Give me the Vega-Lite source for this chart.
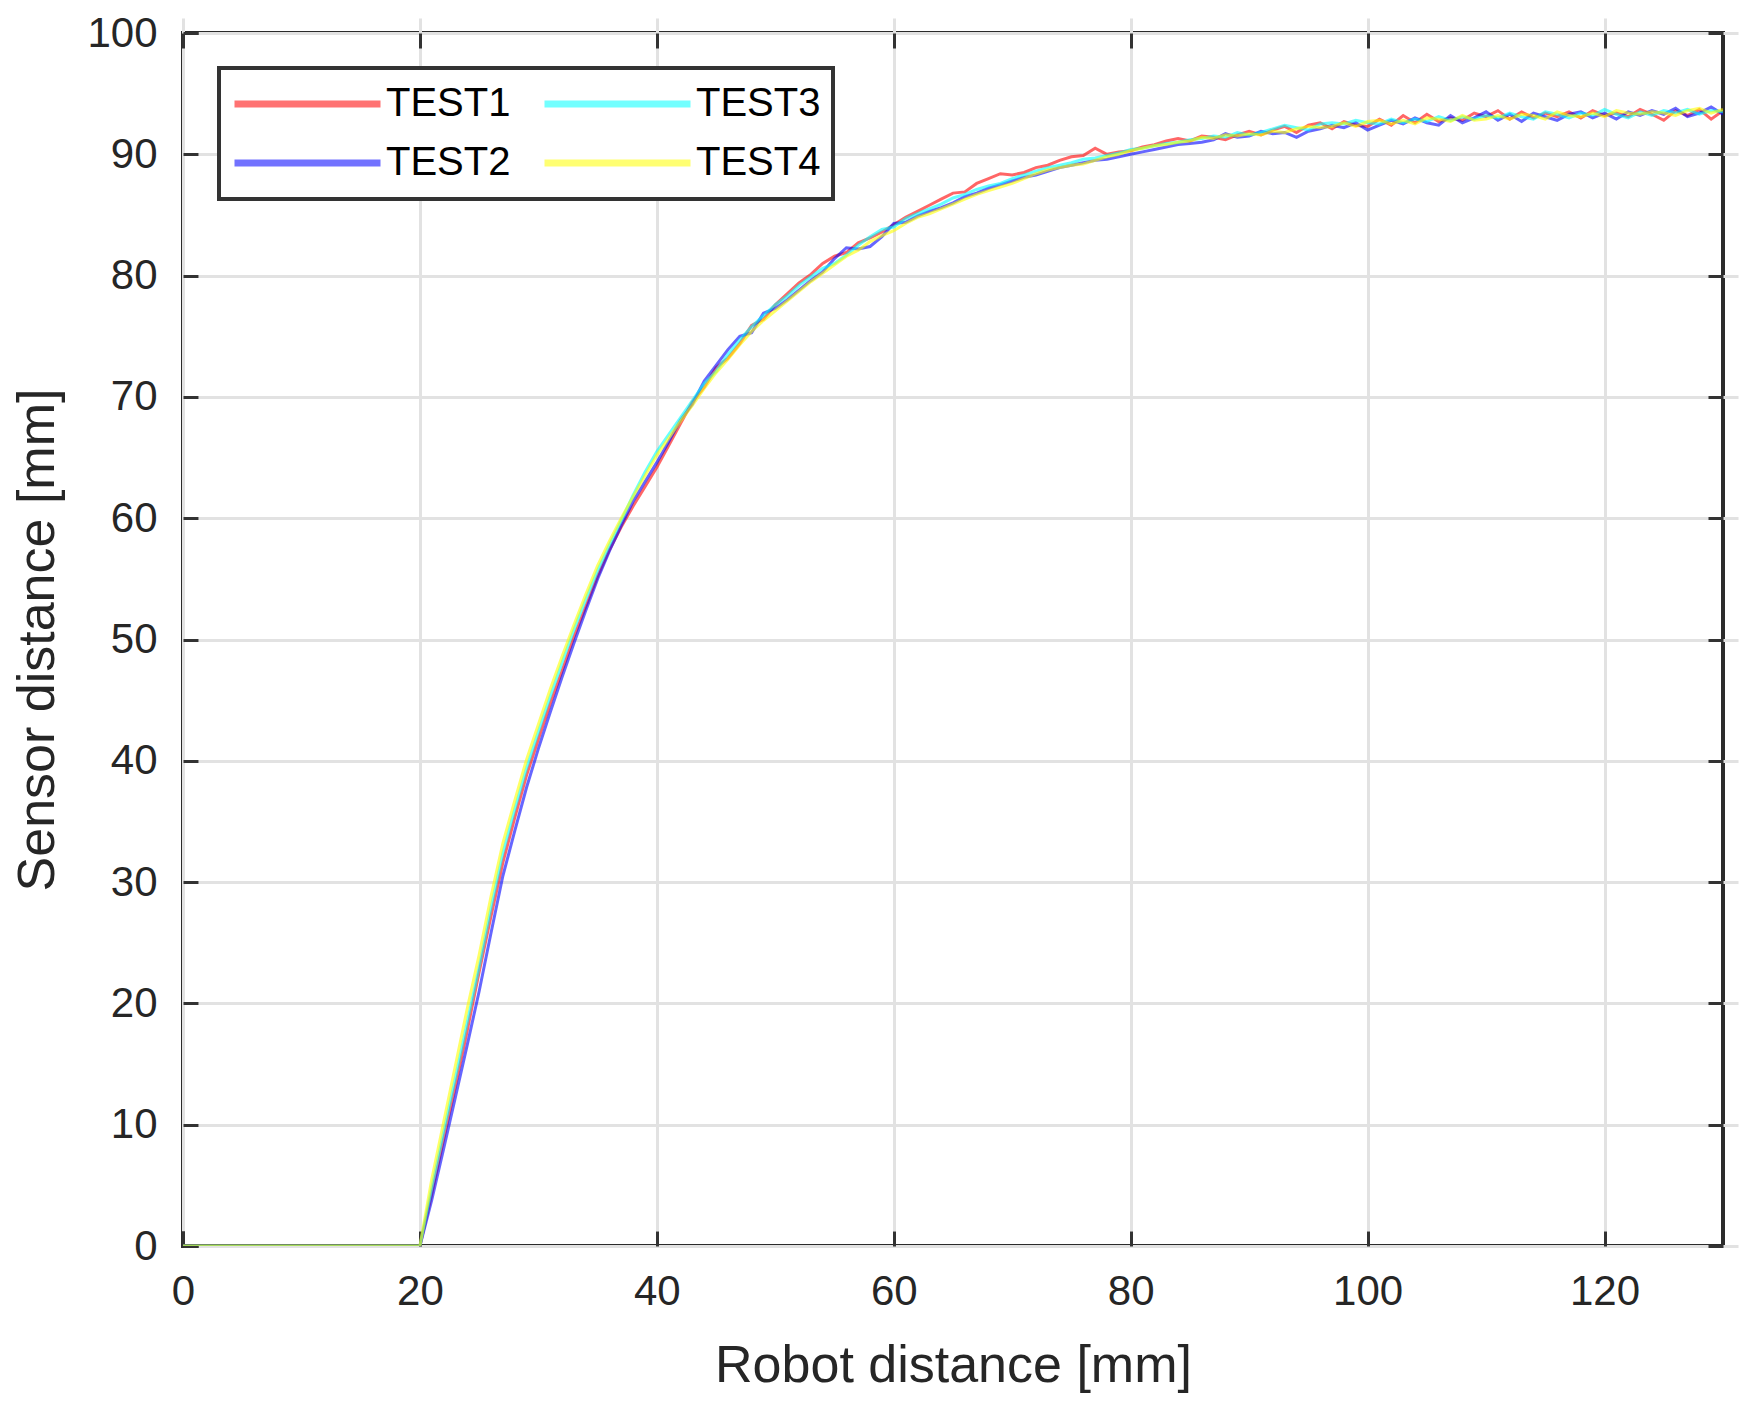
{
  "$schema": "https://vega.github.io/schema/vega-lite/v6.json",
  "width": 1540,
  "height": 1213,
  "autosize": {"type": "none"},
  "padding": {"left": 183, "top": 33, "right": 18, "bottom": 165},
  "background": "white",
  "data": {
    "values": [
      {"x":0,"TEST1":0,"TEST2":0,"TEST3":0,"TEST4":0},
      {"x":10,"TEST1":0,"TEST2":0,"TEST3":0,"TEST4":0},
      {"x":20,"TEST1":0,"TEST2":0,"TEST3":0,"TEST4":0},
      {"x":21,"TEST1":4.3,"TEST2":3.8,"TEST3":4.8,"TEST4":5.5},
      {"x":22,"TEST1":8.8,"TEST2":8.0,"TEST3":9.4,"TEST4":10.2},
      {"x":23,"TEST1":13.2,"TEST2":12.3,"TEST3":13.9,"TEST4":14.9},
      {"x":24,"TEST1":17.8,"TEST2":16.6,"TEST3":18.5,"TEST4":19.6},
      {"x":25,"TEST1":22.6,"TEST2":21.0,"TEST3":23.0,"TEST4":24.0},
      {"x":26,"TEST1":27.2,"TEST2":25.8,"TEST3":27.9,"TEST4":28.8},
      {"x":27,"TEST1":31.6,"TEST2":30.5,"TEST3":32.4,"TEST4":33.2},
      {"x":28,"TEST1":35.3,"TEST2":34.2,"TEST3":36.0,"TEST4":36.7},
      {"x":29,"TEST1":38.8,"TEST2":37.8,"TEST3":39.4,"TEST4":40.1},
      {"x":30,"TEST1":41.8,"TEST2":41.0,"TEST3":42.4,"TEST4":43.0},
      {"x":31,"TEST1":44.7,"TEST2":44.0,"TEST3":45.3,"TEST4":45.9},
      {"x":32,"TEST1":47.4,"TEST2":46.9,"TEST3":48.1,"TEST4":48.6},
      {"x":33,"TEST1":50.2,"TEST2":49.7,"TEST3":50.8,"TEST4":51.2},
      {"x":34,"TEST1":52.7,"TEST2":52.4,"TEST3":53.3,"TEST4":53.7},
      {"x":35,"TEST1":55.2,"TEST2":55.0,"TEST3":55.7,"TEST4":56.1},
      {"x":36,"TEST1":57.4,"TEST2":57.3,"TEST3":57.8,"TEST4":58.1},
      {"x":37,"TEST1":59.3,"TEST2":59.4,"TEST3":59.8,"TEST4":60.0},
      {"x":38,"TEST1":61.0,"TEST2":61.4,"TEST3":61.9,"TEST4":61.8},
      {"x":39,"TEST1":62.6,"TEST2":63.0,"TEST3":63.8,"TEST4":63.5},
      {"x":40,"TEST1":64.2,"TEST2":64.6,"TEST3":65.5,"TEST4":65.2},
      {"x":41,"TEST1":66.0,"TEST2":66.3,"TEST3":66.9,"TEST4":66.6},
      {"x":42,"TEST1":67.8,"TEST2":68.1,"TEST3":68.3,"TEST4":68.0},
      {"x":43,"TEST1":69.6,"TEST2":69.4,"TEST3":69.7,"TEST4":69.3},
      {"x":44,"TEST1":70.8,"TEST2":71.3,"TEST3":71.1,"TEST4":70.7},
      {"x":45,"TEST1":72.4,"TEST2":72.6,"TEST3":72.1,"TEST4":72.0},
      {"x":46,"TEST1":73.2,"TEST2":73.9,"TEST3":73.5,"TEST4":73.1},
      {"x":47,"TEST1":74.4,"TEST2":75.0,"TEST3":74.7,"TEST4":74.3},
      {"x":48,"TEST1":75.9,"TEST2":75.3,"TEST3":75.8,"TEST4":75.4},
      {"x":49,"TEST1":76.4,"TEST2":76.9,"TEST3":76.7,"TEST4":76.3},
      {"x":50,"TEST1":77.6,"TEST2":77.3,"TEST3":77.6,"TEST4":77.1},
      {"x":51,"TEST1":78.5,"TEST2":78.0,"TEST3":78.3,"TEST4":77.9},
      {"x":52,"TEST1":79.4,"TEST2":78.8,"TEST3":79.2,"TEST4":78.7},
      {"x":53,"TEST1":80.1,"TEST2":79.6,"TEST3":79.9,"TEST4":79.5},
      {"x":54,"TEST1":81.0,"TEST2":80.3,"TEST3":80.6,"TEST4":80.2},
      {"x":55,"TEST1":81.6,"TEST2":81.4,"TEST3":81.0,"TEST4":80.9},
      {"x":56,"TEST1":81.9,"TEST2":82.3,"TEST3":81.7,"TEST4":81.6},
      {"x":57,"TEST1":82.7,"TEST2":82.2,"TEST3":82.5,"TEST4":82.1},
      {"x":58,"TEST1":83.1,"TEST2":82.4,"TEST3":83.2,"TEST4":82.8},
      {"x":59,"TEST1":83.6,"TEST2":83.2,"TEST3":83.8,"TEST4":83.3},
      {"x":60,"TEST1":84.2,"TEST2":84.3,"TEST3":84.0,"TEST4":83.7},
      {"x":61,"TEST1":84.8,"TEST2":84.4,"TEST3":84.7,"TEST4":84.3},
      {"x":62,"TEST1":85.3,"TEST2":84.9,"TEST3":85.1,"TEST4":84.8},
      {"x":63,"TEST1":85.8,"TEST2":85.3,"TEST3":85.5,"TEST4":85.1},
      {"x":64,"TEST1":86.3,"TEST2":85.6,"TEST3":85.9,"TEST4":85.5},
      {"x":65,"TEST1":86.8,"TEST2":86.0,"TEST3":86.4,"TEST4":85.9},
      {"x":66,"TEST1":86.9,"TEST2":86.5,"TEST3":86.7,"TEST4":86.3},
      {"x":67,"TEST1":87.6,"TEST2":86.8,"TEST3":87.1,"TEST4":86.7},
      {"x":68,"TEST1":88.0,"TEST2":87.2,"TEST3":87.4,"TEST4":87.0},
      {"x":69,"TEST1":88.4,"TEST2":87.5,"TEST3":87.6,"TEST4":87.3},
      {"x":70,"TEST1":88.3,"TEST2":87.8,"TEST3":88.0,"TEST4":87.6},
      {"x":71,"TEST1":88.5,"TEST2":88.1,"TEST3":88.3,"TEST4":88.0},
      {"x":72,"TEST1":88.9,"TEST2":88.3,"TEST3":88.6,"TEST4":88.4},
      {"x":73,"TEST1":89.1,"TEST2":88.6,"TEST3":88.9,"TEST4":88.7},
      {"x":74,"TEST1":89.5,"TEST2":88.9,"TEST3":89.1,"TEST4":88.9},
      {"x":75,"TEST1":89.8,"TEST2":89.1,"TEST3":89.3,"TEST4":89.1},
      {"x":76,"TEST1":89.9,"TEST2":89.3,"TEST3":89.6,"TEST4":89.2},
      {"x":77,"TEST1":90.5,"TEST2":89.5,"TEST3":89.7,"TEST4":89.5},
      {"x":78,"TEST1":90.0,"TEST2":89.6,"TEST3":89.9,"TEST4":89.8},
      {"x":79,"TEST1":90.2,"TEST2":89.8,"TEST3":90.1,"TEST4":90.0},
      {"x":80,"TEST1":90.3,"TEST2":90.0,"TEST3":90.4,"TEST4":90.3},
      {"x":81,"TEST1":90.6,"TEST2":90.2,"TEST3":90.5,"TEST4":90.5},
      {"x":82,"TEST1":90.8,"TEST2":90.4,"TEST3":90.7,"TEST4":90.7},
      {"x":83,"TEST1":91.1,"TEST2":90.6,"TEST3":90.9,"TEST4":90.8},
      {"x":84,"TEST1":91.3,"TEST2":90.8,"TEST3":91.0,"TEST4":91.0},
      {"x":85,"TEST1":91.1,"TEST2":90.9,"TEST3":91.2,"TEST4":91.1},
      {"x":86,"TEST1":91.5,"TEST2":91.0,"TEST3":91.3,"TEST4":91.4},
      {"x":87,"TEST1":91.4,"TEST2":91.2,"TEST3":91.5,"TEST4":91.3},
      {"x":88,"TEST1":91.2,"TEST2":91.7,"TEST3":91.4,"TEST4":91.6},
      {"x":89,"TEST1":91.6,"TEST2":91.4,"TEST3":91.8,"TEST4":91.5},
      {"x":90,"TEST1":91.9,"TEST2":91.5,"TEST3":91.6,"TEST4":91.7},
      {"x":91,"TEST1":91.6,"TEST2":91.9,"TEST3":91.8,"TEST4":91.6},
      {"x":92,"TEST1":92.0,"TEST2":91.7,"TEST3":92.1,"TEST4":91.9},
      {"x":93,"TEST1":92.3,"TEST2":91.8,"TEST3":92.4,"TEST4":91.8},
      {"x":94,"TEST1":91.8,"TEST2":91.4,"TEST3":92.2,"TEST4":92.1},
      {"x":95,"TEST1":92.4,"TEST2":91.9,"TEST3":92.0,"TEST4":92.3},
      {"x":96,"TEST1":92.6,"TEST2":92.1,"TEST3":92.5,"TEST4":92.2},
      {"x":97,"TEST1":92.1,"TEST2":92.4,"TEST3":92.6,"TEST4":92.3},
      {"x":98,"TEST1":92.7,"TEST2":92.2,"TEST3":92.5,"TEST4":92.6},
      {"x":99,"TEST1":92.4,"TEST2":92.6,"TEST3":92.8,"TEST4":92.3},
      {"x":100,"TEST1":92.3,"TEST2":92.0,"TEST3":92.6,"TEST4":92.7},
      {"x":101,"TEST1":92.9,"TEST2":92.4,"TEST3":92.5,"TEST4":92.8},
      {"x":102,"TEST1":92.4,"TEST2":92.8,"TEST3":92.9,"TEST4":92.5},
      {"x":103,"TEST1":93.2,"TEST2":92.5,"TEST3":92.6,"TEST4":92.8},
      {"x":104,"TEST1":92.6,"TEST2":93.0,"TEST3":92.9,"TEST4":92.5},
      {"x":105,"TEST1":93.3,"TEST2":92.6,"TEST3":92.7,"TEST4":93.0},
      {"x":106,"TEST1":92.7,"TEST2":92.4,"TEST3":93.1,"TEST4":92.9},
      {"x":107,"TEST1":93.0,"TEST2":93.2,"TEST3":92.8,"TEST4":92.7},
      {"x":108,"TEST1":92.8,"TEST2":92.6,"TEST3":93.1,"TEST4":93.2},
      {"x":109,"TEST1":93.4,"TEST2":93.0,"TEST3":92.9,"TEST4":92.8},
      {"x":110,"TEST1":93.1,"TEST2":93.5,"TEST3":93.2,"TEST4":92.9},
      {"x":111,"TEST1":93.6,"TEST2":92.8,"TEST3":93.0,"TEST4":93.2},
      {"x":112,"TEST1":92.9,"TEST2":93.3,"TEST3":93.4,"TEST4":92.9},
      {"x":113,"TEST1":93.5,"TEST2":92.7,"TEST3":93.1,"TEST4":93.3},
      {"x":114,"TEST1":93.0,"TEST2":93.4,"TEST3":92.9,"TEST4":93.2},
      {"x":115,"TEST1":93.4,"TEST2":93.1,"TEST3":93.5,"TEST4":92.9},
      {"x":116,"TEST1":93.1,"TEST2":92.8,"TEST3":93.3,"TEST4":93.5},
      {"x":117,"TEST1":93.5,"TEST2":93.3,"TEST3":93.0,"TEST4":93.2},
      {"x":118,"TEST1":93.0,"TEST2":93.5,"TEST3":93.4,"TEST4":93.1},
      {"x":119,"TEST1":93.6,"TEST2":93.0,"TEST3":93.2,"TEST4":93.4},
      {"x":120,"TEST1":93.2,"TEST2":93.4,"TEST3":93.7,"TEST4":93.1},
      {"x":121,"TEST1":93.4,"TEST2":92.9,"TEST3":93.3,"TEST4":93.6},
      {"x":122,"TEST1":93.1,"TEST2":93.5,"TEST3":93.0,"TEST4":93.4},
      {"x":123,"TEST1":93.7,"TEST2":93.2,"TEST3":93.5,"TEST4":93.3},
      {"x":124,"TEST1":93.3,"TEST2":93.6,"TEST3":93.2,"TEST4":93.5},
      {"x":125,"TEST1":92.8,"TEST2":93.3,"TEST3":93.6,"TEST4":93.4},
      {"x":126,"TEST1":93.6,"TEST2":93.8,"TEST3":93.4,"TEST4":93.2},
      {"x":127,"TEST1":93.2,"TEST2":93.1,"TEST3":93.7,"TEST4":93.6},
      {"x":128,"TEST1":93.7,"TEST2":93.4,"TEST3":93.3,"TEST4":93.8},
      {"x":129,"TEST1":92.9,"TEST2":93.9,"TEST3":93.6,"TEST4":93.4},
      {"x":130,"TEST1":93.6,"TEST2":93.3,"TEST3":93.5,"TEST4":93.7}
    ]
  },
  "transform": [{"fold": ["TEST1", "TEST2", "TEST3", "TEST4"], "as": ["test", "y"]}],
  "layer": [
    {
      "mark": {"type": "line", "strokeWidth": 3, "strokeOpacity": 0.6, "clip": true},
      "encoding": {
        "x": {"field": "x", "type": "quantitative", "scale": {"domain": [0, 130], "nice": false},
          "axis": {"orient": "bottom", "values": [0,20,40,60,80,100,120], "title": "Robot distance [mm]", "labelFlush": false}},
        "y": {"field": "y", "type": "quantitative", "scale": {"domain": [0, 100], "nice": false},
          "axis": {"orient": "left", "values": [0,10,20,30,40,50,60,70,80,90,100], "title": "Sensor distance [mm]"}},
        "color": {"field": "test", "type": "nominal",
          "scale": {"domain": ["TEST1","TEST2","TEST3","TEST4"], "range": ["#ff0000","#0000ff","#00ffff","#ffff00"]},
          "legend": {"title": null, "orient": "none", "legendX": 36, "legendY": 35, "columns": 2,
            "symbolType": "stroke", "symbolSize": 21316, "symbolStrokeWidth": 7, "symbolOpacity": 0.55,
            "labelFontSize": 40, "labelColor": "#000000", "labelOffset": 2, "labelFont": "Liberation Sans",
            "clipHeight": 48, "columnPadding": 30, "rowPadding": 11, "padding": 12,
            "fillColor": "white", "strokeColor": "#333333"}},
        "order": {"field": "x", "type": "quantitative"}
      }
    },
    {
      "mark": {"type": "point", "opacity": 0},
      "encoding": {
        "x": {"field": "x", "type": "quantitative", "axis": {"orient": "top", "values": [0,20,40,60,80,100,120], "labels": false, "title": null, "grid": false}},
        "y": {"field": "y", "type": "quantitative", "axis": {"orient": "right", "values": [0,10,20,30,40,50,60,70,80,90,100], "labels": false, "title": null, "grid": false}}
      }
    }
  ],
  "resolve": {"axis": {"x": "independent", "y": "independent"}},
  "config": {
    "font": "Liberation Sans",
    "view": {"stroke": "#2b2b2b", "strokeWidth": 4},
    "legend": {"strokeWidth": 4},
    "axis": {
      "domain": false, "offset": -15,
      "grid": true, "gridColor": "#e2e2e2", "gridWidth": 3,
      "tickSize": 15, "tickColor": "#333333", "tickWidth": 3,
      "labelFont": "Liberation Sans", "labelFontSize": 42, "labelColor": "#262626",
      "titleFont": "Liberation Sans", "titleFontSize": 52, "titleFontWeight": "normal", "titleColor": "#262626"
    },
    "axisBottom": {"labelPadding": 25, "titlePadding": 28},
    "axisLeft": {"labelPadding": 26, "titlePadding": 22}
  }
}
